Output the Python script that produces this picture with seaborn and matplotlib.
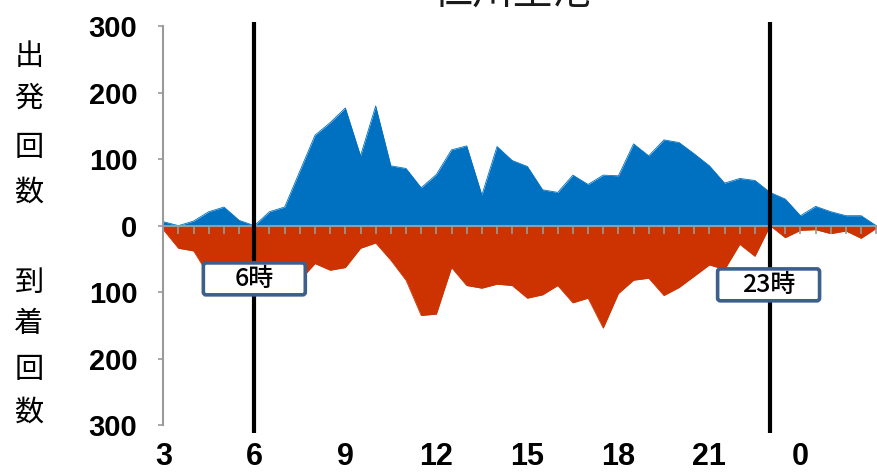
import matplotlib
matplotlib.use("Agg")
import matplotlib.pyplot as plt
import seaborn as sns
import pandas as pd
from matplotlib.patches import FancyBboxPatch

# Flights per half-hour slot, starting at 3:00 and ending at 2:30 the next day
departures = [6, 0, 7, 21, 28, 8, 0, 21, 28, 82, 136, 155,
              177, 105, 180, 90, 86, 57, 77, 114, 120, 46, 119, 98,
              89, 54, 50, 76, 62, 76, 75, 123, 105, 129, 125, 108,
              90, 64, 71, 68, 50, 40, 15, 29, 21, 15, 15, 0]
arrivals = [6, 34, 38, 75, 85, 90, 88, 80, 85, 82, 57, 67,
            63, 34, 26, 52, 82, 135, 133, 63, 90, 94, 88, 90,
            109, 104, 90, 116, 109, 154, 102, 82, 79, 105, 93, 76,
            59, 66, 28, 46, 0, 18, 7, 6, 12, 8, 19, 4]

hour_ticks = ["3", "6", "9", "12", "15", "18", "21", "0"]
y_ticks = [-300, -200, -100, 0, 100, 200, 300]
curfew_hours = [6, 23]
curfew_labels = ["6時", "23時"]
title = "仁川空港"
dep_label = "出発回数"
arr_label = "到着回数"

BLUE = "#0070C0"
RED = "#CC3300"
GRAY = "#9a9a9a"
BOX_EDGE = "#3D5F8C"
CJK = ["Noto Sans CJK JP", "DejaVu Sans"]

sns.set_theme(style="white")
plt.rcParams["font.family"] = ["Liberation Sans", "Noto Sans CJK JP", "DejaVu Sans"]

df = pd.DataFrame({
    "slot": list(range(len(departures))),
    "dep": departures,
    "arr": [-v for v in arrivals],
})

fig = plt.figure(figsize=(8.77, 4.74), dpi=100)
ax = fig.add_axes([0.1862, 0.103, 0.813, 0.8418])
ax.set_axisbelow(False)

ax.fill_between(df["slot"], 0, df["dep"], color=BLUE, lw=0, zorder=1)
ax.fill_between(df["slot"], 0, df["arr"], color=RED, lw=0, zorder=1)
sns.lineplot(data=df, x="slot", y="dep", color=BLUE, lw=0.6, ax=ax, zorder=1.1)
sns.lineplot(data=df, x="slot", y="arr", color=RED, lw=0.6, ax=ax, zorder=1.1)

n = len(departures)
ax.set_xlim(0, n - 1)
ax.set_ylim(-300, 300)
ax.set_xlabel("")
ax.set_ylabel("")

for side in ("top", "right"):
    ax.spines[side].set_visible(False)
ax.spines["left"].set_color(GRAY)
ax.spines["left"].set_linewidth(1.5)
ax.spines["bottom"].set_position(("data", 0))
ax.spines["bottom"].set_color(GRAY)
ax.spines["bottom"].set_linewidth(1.5)

# half-hour ticks along the zero line
ax.set_xticks(range(n))
ax.tick_params(axis="x", bottom=True, length=5.5, width=1.2, color=GRAY,
               direction="out", labelbottom=False)

ax.set_yticks(y_ticks)
ax.set_yticklabels([str(abs(v)) for v in y_ticks], fontweight="bold")
ax.tick_params(axis="y", left=True, length=3.6, width=1.2, color=GRAY,
               direction="out", pad=15, labelsize=21, labelcolor="black")

# hour labels at the bottom of the plot
tick_pos = [i * 6 for i in range(len(hour_ticks))]
sec = ax.secondary_xaxis("bottom")
sec.set_xticks(tick_pos)
sec.set_xticklabels(hour_ticks, fontweight="bold")
sec.tick_params(length=0, pad=12, labelsize=22, labelcolor="black")
sec.spines["bottom"].set_visible(False)

# curfew markers with their labels
box_w = 6.72
box_h = 48
box_centers = [(0, -80), (-0.1, -89)]
for hour, lab, (dx, cy) in zip(curfew_hours, curfew_labels, box_centers):
    x = (hour - 3) * 2
    ax.plot([x, x], [-312, 306], color="black", lw=3, clip_on=False,
            zorder=3, solid_capstyle="butt")
    cx = x + dx
    box = FancyBboxPatch((cx - box_w / 2, cy - box_h / 2), box_w, box_h,
                         boxstyle="round,pad=0,rounding_size=0.18",
                         mutation_aspect=22.8, facecolor="white",
                         edgecolor=BOX_EDGE, lw=2.6, zorder=4, clip_on=False)
    ax.add_patch(box)
    ax.text(cx, cy, lab, ha="center", va="center", fontsize=18,
            family=CJK, fontweight="medium", color="black", zorder=5)

# stacked vertical axis titles
top_y = [57, 99, 148, 193]
bot_y = [283, 324, 370, 413]
for ch, py in zip(dep_label, top_y):
    fig.text(29 / 877, 1 - py / 474, ch, ha="center", va="center",
             fontsize=21, family=CJK, color="black")
for ch, py in zip(arr_label, bot_y):
    fig.text(29 / 877, 1 - py / 474, ch, ha="center", va="center",
             fontsize=21, family=CJK, color="black")

fig.text(0.585, 1 - 4 / 474, title, ha="center", va="baseline",
         fontsize=29, family=CJK, color="#1a1a1a")

fig.savefig("out.png", dpi=100)
